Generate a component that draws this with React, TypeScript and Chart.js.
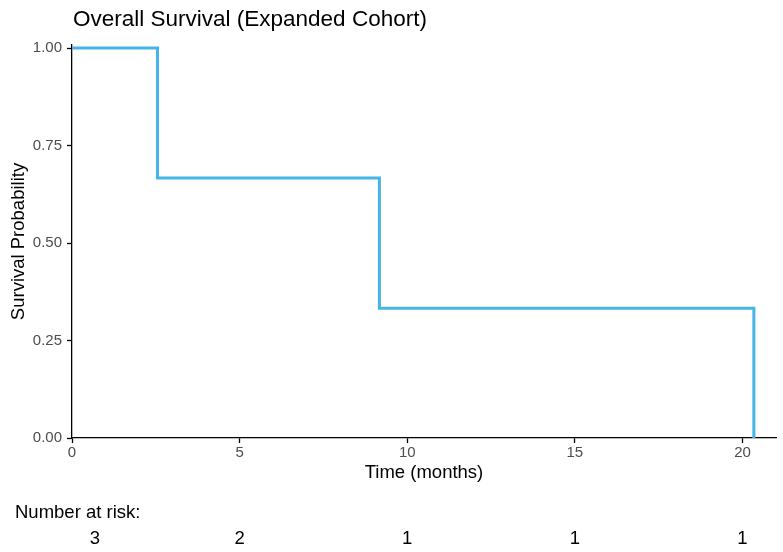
import React, { useEffect, useRef } from "react";
import { Chart, registerables } from "chart.js";

Chart.register(...registerables);

const titleText = "Overall Survival (Expanded Cohort)";
const eventTimes = [0, 2.55, 9.17, 20.34];
const survival = [1, 0.667, 0.333, 0];
const yTicks = [0, 0.25, 0.5, 0.75, 1];
const riskTimes = [0, 5, 10, 15, 20];
const riskCounts = [3, 2, 1, 1, 1];

const FONT = "'Liberation Sans', Arial, Helvetica, sans-serif";

const overlayPlugin = {
  id: "overlay",
  afterDraw(chart: any) {
    const ctx = chart.ctx;
    const xs = chart.scales.x;
    ctx.save();
    ctx.fillStyle = "#000000";
    ctx.font = `22.5px ${FONT}`;
    ctx.textAlign = "left";
    ctx.textBaseline = "middle";
    ctx.fillText(titleText, chart.chartArea.left + 1, 20);

    ctx.font = `18.5px ${FONT}`;
    ctx.fillText("Number at risk:", 15, 513);
    ctx.textAlign = "center";
    riskTimes.forEach((t, i) => {
      const px = Math.max(xs.getPixelForValue(t), 95);
      ctx.fillText(String(riskCounts[i]), px, 539);
    });
    ctx.restore();
  },
};

export default function App() {
  const ref = useRef<HTMLCanvasElement | null>(null);
  useEffect(() => {
    document.body.style.margin = "0";
    const chart = new Chart(ref.current as HTMLCanvasElement, {
      type: "line",
      data: {
        datasets: [
          {
            data: eventTimes.map((t, i) => ({ x: t, y: survival[i] })),
            stepped: true,
            borderColor: "#45B4E6",
            borderWidth: 3,
            pointRadius: 0,
            fill: false,
          },
        ],
      },
      options: {
        animation: false,
        responsive: false,
        maintainAspectRatio: false,
        layout: { padding: { top: 45, right: 7, bottom: 64, left: 0 } },
        plugins: {
          legend: { display: false },
          title: { display: false },
          tooltip: { enabled: false },
        },
        scales: {
          x: {
            type: "linear",
            min: 0,
            max: 21,
            afterBuildTicks: (s: any) => {
              s.ticks = riskTimes.map((v) => ({ value: v }));
            },
            afterFit: (s: any) => {
              s.height = 50;
            },
            border: { display: true, color: "#000000", width: 1.3 },
            grid: {
              display: true,
              drawOnChartArea: false,
              drawTicks: true,
              tickLength: 5,
              tickColor: "#000000",
              tickWidth: 1.3,
            },
            ticks: {
              color: "#4D4D4D",
              font: { family: FONT, size: 15 },
              padding: 1,
              maxRotation: 0,
              callback: (v: any) => String(v),
            },
            title: {
              display: true,
              text: "Time (months)",
              color: "#000000",
              font: { family: FONT, size: 18.5 },
              padding: { top: 4, bottom: 4 },
            },
          },
          y: {
            type: "linear",
            min: 0,
            max: 1.008,
            afterBuildTicks: (s: any) => {
              s.ticks = yTicks.map((v) => ({ value: v }));
            },
            afterFit: (s: any) => {
              s.width = 72;
            },
            border: { display: true, color: "#000000", width: 1.3 },
            grid: {
              display: true,
              drawOnChartArea: false,
              drawTicks: true,
              tickLength: 5,
              tickColor: "#000000",
              tickWidth: 1.3,
            },
            ticks: {
              color: "#4D4D4D",
              font: { family: FONT, size: 15 },
              padding: 5,
              callback: (v: any) => Number(v).toFixed(2),
            },
            title: {
              display: true,
              text: "Survival Probability",
              color: "#000000",
              font: { family: FONT, size: 18.5 },
              padding: { top: 8, bottom: 4 },
            },
          },
        },
      },
      plugins: [overlayPlugin],
    } as any);
    return () => chart.destroy();
  }, []);

  return (
    <div style={{ position: "absolute", left: 0, top: 0, width: 783, height: 552, background: "#ffffff" }}>
      <canvas ref={ref} width={783} height={552} />
    </div>
  );
}
